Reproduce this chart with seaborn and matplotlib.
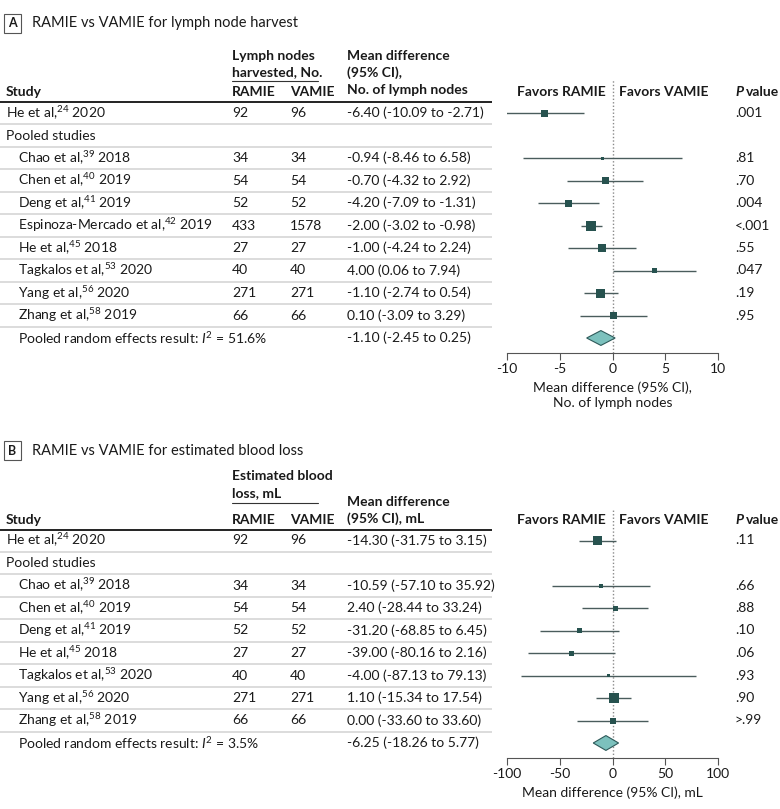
import numpy as np
import pandas as pd
import seaborn as sns
import matplotlib.pyplot as plt
from matplotlib.patches import Polygon, Rectangle

# panel A: lymph node harvest
lymph_authors = ["He et al", "Chao et al", "Chen et al", "Deng et al", "Espinoza-Mercado et al",
                 "He et al", "Tagkalos et al", "Yang et al", "Zhang et al"]
lymph_refs = [24, 39, 40, 41, 42, 45, 53, 56, 58]
lymph_years = [2020, 2018, 2019, 2019, 2019, 2018, 2020, 2020, 2019]
lymph_ramie = [92, 34, 54, 52, 433, 27, 40, 271, 66]
lymph_vamie = [96, 34, 54, 52, 1578, 27, 40, 271, 66]
lymph_md = [-6.40, -0.94, -0.70, -4.20, -2.00, -1.00, 4.00, -1.10, 0.10]
lymph_lo = [-10.09, -8.46, -4.32, -7.09, -3.02, -4.24, 0.06, -2.74, -3.09]
lymph_hi = [-2.71, 6.58, 2.92, -1.31, -0.98, 2.24, 7.94, 0.54, 3.29]
lymph_p = [".001", ".81", ".70", ".004", "<.001", ".55", ".047", ".19", ".95"]
lymph_weight = [7, 3, 7, 7, 10, 8, 5, 9, 7]
lymph_pooled = [-1.10, -2.45, 0.25]
lymph_i2 = 51.6

# panel B: estimated blood loss
blood_authors = ["He et al", "Chao et al", "Chen et al", "Deng et al", "He et al",
                 "Tagkalos et al", "Yang et al", "Zhang et al"]
blood_refs = [24, 39, 40, 41, 45, 53, 56, 58]
blood_years = [2020, 2018, 2019, 2019, 2018, 2020, 2020, 2019]
blood_ramie = [92, 34, 54, 52, 27, 40, 271, 66]
blood_vamie = [96, 34, 54, 52, 27, 40, 271, 66]
blood_md = [-14.30, -10.59, 2.40, -31.20, -39.00, -4.00, 1.10, 0.00]
blood_lo = [-31.75, -57.10, -28.44, -68.85, -80.16, -87.13, -15.34, -33.60]
blood_hi = [3.15, 35.92, 33.24, 6.45, 2.16, 79.13, 17.54, 33.60]
blood_p = [".11", ".66", ".88", ".10", ".06", ".93", ".90", ">.99"]
blood_weight = [9, 4, 5, 5, 5, 3, 10, 6]
blood_pooled = [-6.25, -18.26, 5.77]
blood_i2 = 3.5

sns.set_theme(style='white')
plt.rcParams['font.family'] = ['Lato', 'DejaVu Sans']
plt.rcParams['mathtext.fontset'] = 'custom'
plt.rcParams['mathtext.rm'] = 'Lato'
plt.rcParams['mathtext.it'] = 'Lato:italic'
plt.rcParams['axes.unicode_minus'] = False

W, H = 780, 809
FS = 10
TXT = '#1a1a1a'
SQ = '#27524f'
CIC = '#4a5c5c'
GRID = '#d6d6d6'
STEP = 22.5

fig = plt.figure(figsize=(7.8, 8.09), dpi=100)
bg = fig.add_axes([0, 0, 1, 1])
bg.set_xlim(0, W)
bg.set_ylim(H, 0)
bg.axis('off')


def fmt(v):
    return f"{v:.2f}"


def panel(row0, letter, title, authors, refs, years, ramie, vamie, md, lo, hi, pv, weight,
          pooled, i2, lim, ticks, xlabel):
    n = len(authors)
    title_y = row0 - 90
    bg.add_patch(Rectangle((4, title_y - 9.5), 17, 19, fill=False, ec='#555', lw=0.8))
    bg.text(12.5, title_y, letter, ha='center', va='center', fontsize=9, fontweight='bold', color=TXT)
    bg.text(32, title_y, title, ha='left', va='center', fontsize=10.5, color=TXT)

    head_y = row0 - 21
    bg.text(6, head_y, 'Study', ha='left', va='center', fontsize=FS, fontweight='bold', color=TXT)
    bg.text(232, head_y, 'RAMIE', ha='left', va='center', fontsize=FS, fontweight='bold', color=TXT)
    bg.text(290, head_y, 'VAMIE', ha='left', va='center', fontsize=FS, fontweight='bold', color=TXT)
    bg.plot([0, 492], [row0 - 11, row0 - 11], color='#222', lw=1.4, solid_capstyle='butt')

    # rows: single study, "Pooled studies", pooled studies, pooled result
    rows = [0] + list(range(2, n + 1))
    last = n + 1
    ys = [row0 + STEP * r for r in rows]
    for i in range(last):
        yy = row0 + STEP * i + STEP / 2
        bg.plot([0, 492], [yy, yy], color=GRID, lw=1.2, solid_capstyle='butt')

    for k, (r, y) in enumerate(zip(rows, ys)):
        x0 = 6 if r == 0 else 18
        bg.text(x0, y, f"{authors[k]},$^{{{refs[k]}}}$ {years[k]}", ha='left', va='center',
                fontsize=FS, color=TXT)
        bg.text(232, y, str(ramie[k]), ha='left', va='center', fontsize=FS, color=TXT)
        bg.text(290, y, str(vamie[k]), ha='left', va='center', fontsize=FS, color=TXT)
        bg.text(347, y, f"{fmt(md[k])} ({fmt(lo[k])} to {fmt(hi[k])})", ha='left', va='center',
                fontsize=FS, color=TXT)
        bg.text(735, y, pv[k], ha='left', va='center', fontsize=FS, color=TXT)
    bg.text(6, row0 + STEP, 'Pooled studies', ha='left', va='center', fontsize=FS, color=TXT)
    yl = row0 + STEP * last
    bg.text(18, yl, f"Pooled random effects result: $I^{{2}}$ = {i2}%", ha='left', va='center',
            fontsize=FS, color=TXT)
    bg.text(347, yl, f"{fmt(pooled[0])} ({fmt(pooled[1])} to {fmt(pooled[2])})", ha='left',
            va='center', fontsize=FS, color=TXT)
    bg.text(735, head_y, 'P', ha='left', va='center', fontsize=FS, fontweight='bold',
            fontstyle='italic', color=TXT)
    bg.text(746, head_y, 'value', ha='left', va='center', fontsize=FS, fontweight='bold', color=TXT)

    # forest axes
    top = row0 - 33
    bottom = yl + 15
    ax = fig.add_axes([507 / W, 1 - bottom / H, 211 / W, (bottom - top) / H])
    ax.patch.set_alpha(0)
    ax.set_xlim(-lim, lim)
    ax.set_ylim((bottom - row0) / STEP, (top - row0) / STEP)
    ax.axvline(0, color='#8a8a8a', ls=(0, (1, 1.5)), lw=1, zorder=1)
    df = pd.DataFrame({'md': md, 'lo': lo, 'hi': hi, 'row': rows, 'w': weight})
    ax.hlines(df['row'], df['lo'], df['hi'], color=CIC, lw=1, zorder=2)
    sns.scatterplot(data=df, x='md', y='row', size='w',
                    sizes={v: (v * 0.72) ** 2 for v in set(weight)},
                    marker='s', color=SQ, linewidth=0, legend=False, ax=ax, zorder=3)
    m, a, b = pooled
    ax.add_patch(Polygon([(a, last), (m, last - 0.33), (b, last), (m, last + 0.33)],
                         closed=True, fc='#7cc1bd', ec='#2e5a5a', lw=0.8, zorder=3))
    fy = (head_y - row0) / STEP
    ax.text(-lim * 0.066, fy, 'Favors RAMIE', ha='right', va='center', fontsize=FS,
            fontweight='bold', color=TXT)
    ax.text(lim * 0.066, fy, 'Favors VAMIE', ha='left', va='center', fontsize=FS,
            fontweight='bold', color=TXT)
    for s in ['top', 'left', 'right']:
        ax.spines[s].set_visible(False)
    ax.spines['bottom'].set_color('#555')
    ax.spines['bottom'].set_linewidth(0.8)
    ax.set_yticks([])
    ax.set_xticks(ticks)
    ax.tick_params(axis='x', direction='out', length=5, width=0.8, color='#555', pad=2,
                   labelsize=FS, labelcolor=TXT, bottom=True)
    ax.set_xlabel(xlabel, fontsize=FS, color=TXT, labelpad=5, linespacing=1.25)
    ax.set_ylabel('')
    return head_y


# panel A
hy = panel(113, 'A', 'RAMIE vs VAMIE for lymph node harvest', lymph_authors, lymph_refs, lymph_years,
           lymph_ramie, lymph_vamie, lymph_md, lymph_lo, lymph_hi, lymph_p, lymph_weight,
           lymph_pooled, lymph_i2, 10, [-10, -5, 0, 5, 10],
           'Mean difference (95% CI),\nNo. of lymph nodes')
bg.text(232, 56, 'Lymph nodes', ha='left', va='center', fontsize=FS, fontweight='bold', color=TXT)
bg.text(232, 72, 'harvested, No.', ha='left', va='center', fontsize=FS, fontweight='bold', color=TXT)
bg.plot([232, 318], [81, 81], color='#333', lw=0.8)
bg.text(347, 56, 'Mean difference', ha='left', va='center', fontsize=FS, fontweight='bold', color=TXT)
bg.text(347, 73, '(95% CI),', ha='left', va='center', fontsize=FS, fontweight='bold', color=TXT)
bg.text(347, 90, 'No. of lymph nodes', ha='left', va='center', fontsize=FS, fontweight='bold', color=TXT)

# panel B
hy = panel(540.5, 'B', 'RAMIE vs VAMIE for estimated blood loss', blood_authors, blood_refs, blood_years,
           blood_ramie, blood_vamie, blood_md, blood_lo, blood_hi, blood_p, blood_weight,
           blood_pooled, blood_i2, 100, [-100, -50, 0, 50, 100],
           'Mean difference (95% CI), mL')
bg.text(232, 476, 'Estimated blood', ha='left', va='center', fontsize=FS, fontweight='bold', color=TXT)
bg.text(232, 493, 'loss, mL', ha='left', va='center', fontsize=FS, fontweight='bold', color=TXT)
bg.plot([232, 318], [503, 503], color='#333', lw=0.8)
bg.text(347, 502, 'Mean difference', ha='left', va='center', fontsize=FS, fontweight='bold', color=TXT)
bg.text(347, 519, '(95% CI), mL', ha='left', va='center', fontsize=FS, fontweight='bold', color=TXT)

fig.savefig('out.png', dpi=100)
